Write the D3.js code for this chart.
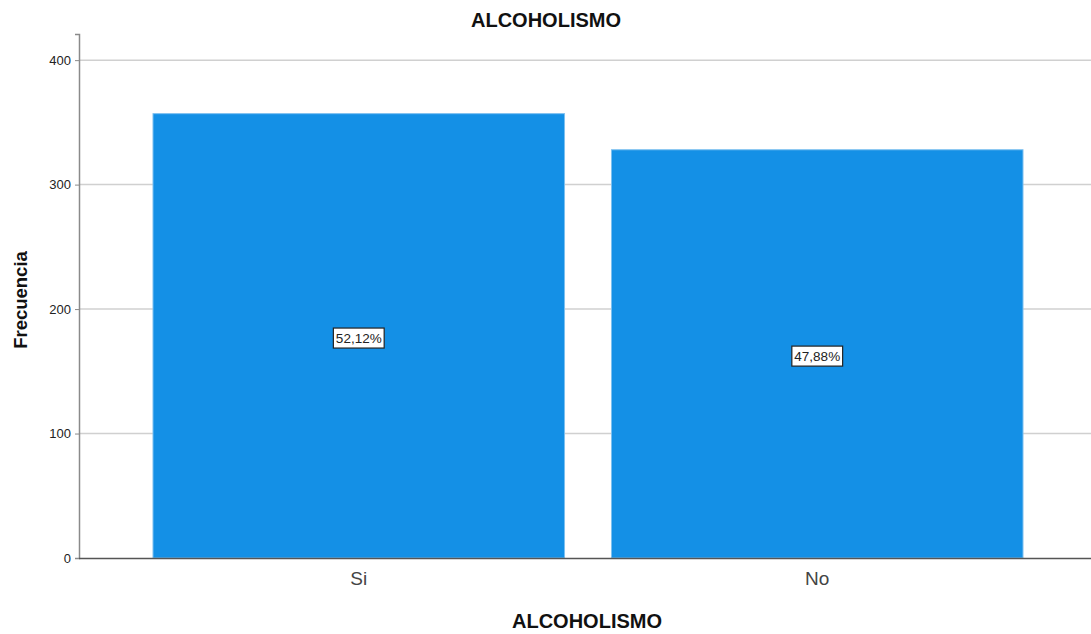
<!DOCTYPE html>
<html><head><meta charset="utf-8">
<script src="https://cdn.jsdelivr.net/npm/d3@7"></script>
<style>body{margin:0;background:#fff}svg{display:block;font-family:"Liberation Sans",Arial,sans-serif}</style>
</head><body><svg id="c" width="1091" height="634"></svg>
<script>
const categories = ["Si", "No"];
const counts = [357, 328];
const percentLabels = ["52,12%", "47,88%"];
const yTicks = [0, 100, 200, 300, 400];
const chartTitle = "ALCOHOLISMO";
const xTitle = "ALCOHOLISMO";
const yTitle = "Frecuencia";

const svg = d3.select("#c");
const L = 79, R = 1091, T = 34, B = 558;
const y = d3.scaleLinear().domain([0, 421]).range([B, T]);
const x = d3.scaleBand().domain(categories).range([153, 1023]).paddingInner(0.1024).paddingOuter(0);

// gridlines
svg.append("g").selectAll("line").data(yTicks.filter(d => d > 0)).join("line")
  .attr("x1", L).attr("x2", R).attr("y1", d => y(d)).attr("y2", d => y(d))
  .attr("stroke", "#d0d0d0").attr("stroke-width", 1.5);

// bars
svg.append("g").selectAll("rect").data(counts).join("rect")
  .attr("x", (d, i) => x(categories[i])).attr("width", x.bandwidth())
  .attr("y", d => y(d)).attr("height", d => B - y(d))
  .attr("fill", "#1490e6").attr("stroke", "#7cc0f0").attr("stroke-width", 1);

// y axis
const ya = svg.append("g").attr("transform", `translate(${L},0)`)
  .call(d3.axisLeft(y).tickValues(yTicks).tickSize(4).tickPadding(4));
ya.select(".domain").attr("stroke", "#8a8a8a").attr("stroke-width", 1.5);
ya.selectAll(".tick line").attr("stroke", "#8a8a8a");
ya.selectAll("text").attr("font-size", 13).attr("fill", "#222").attr("font-family", "Liberation Sans, Arial, sans-serif");

// x axis
const xa = svg.append("g").attr("transform", `translate(0,${B})`)
  .call(d3.axisBottom(x).tickSize(0).tickPadding(14));
xa.select(".domain").attr("d", `M${L},0.5H${R}`).attr("stroke", "#555").attr("stroke-width", 1.5);
xa.selectAll("text").attr("font-size", 19).attr("fill", "#444").attr("font-family", "Liberation Sans, Arial, sans-serif");

// value labels
const lab = svg.append("g").selectAll("g").data(counts).join("g")
  .attr("transform", (d, i) => `translate(${x(categories[i]) + x.bandwidth() / 2},${y(d / 2) + 2})`);
lab.append("text").attr("text-anchor", "middle").attr("dy", "0.35em")
  .attr("font-size", 13.5).attr("fill", "#222").text((d, i) => percentLabels[i]);
lab.each(function () {
  const g = d3.select(this), bb = g.select("text").node().getBBox();
  g.insert("rect", "text").attr("x", bb.x - 2.5).attr("y", bb.y - 2.5)
    .attr("width", bb.width + 5).attr("height", bb.height + 5)
    .attr("fill", "#fff").attr("stroke", "#222").attr("stroke-width", 1.2);
});

// titles
svg.append("text").attr("x", 546).attr("y", 26.5).attr("text-anchor", "middle")
  .attr("font-size", 20).attr("font-weight", "bold").attr("fill", "#111").text(chartTitle);
svg.append("text").attr("x", 587).attr("y", 628).attr("text-anchor", "middle")
  .attr("font-size", 20).attr("font-weight", "bold").attr("fill", "#111").text(xTitle);
svg.append("text").attr("transform", "translate(27,300) rotate(-90)").attr("text-anchor", "middle")
  .attr("font-size", 18.5).attr("font-weight", "bold").attr("fill", "#111").text(yTitle);
</script></body></html>
